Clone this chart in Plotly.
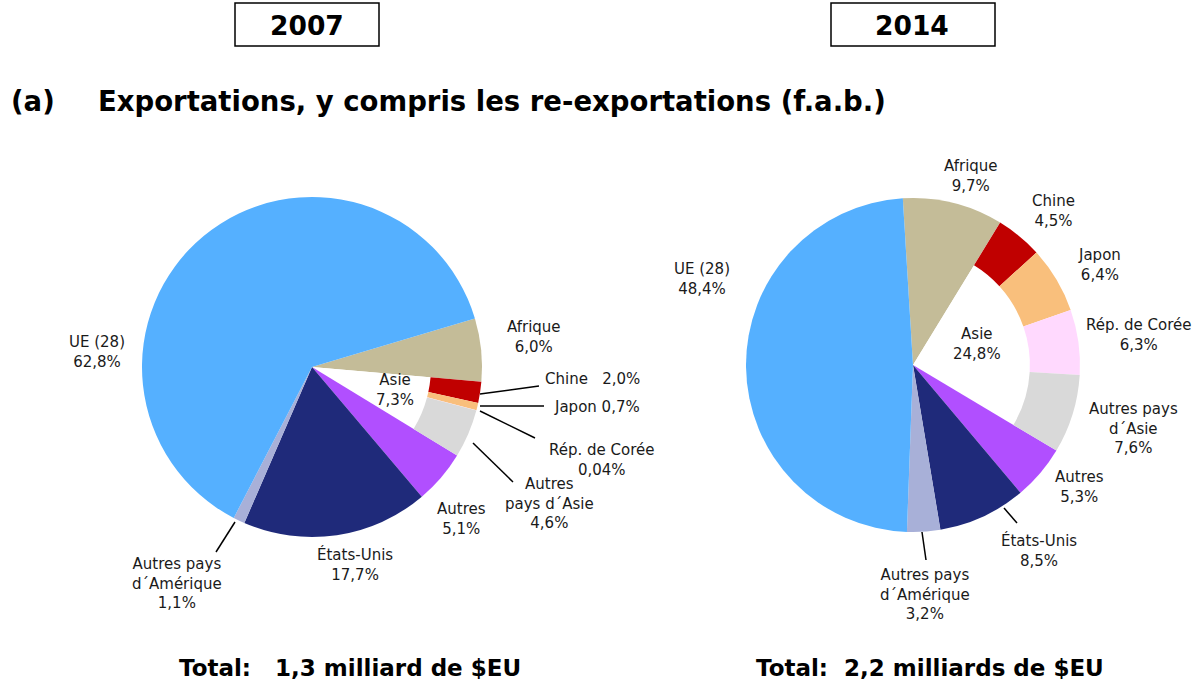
import plotly.graph_objects as go

W, H = 1202, 684

# ---------------- data ----------------
regions = ["Afrique", "Asie", "Autres", "États-Unis", "Autres pays d´Amérique", "UE (28)"]
asia_parts = ["Chine", "Japon", "Rép. de Corée", "Autres pays d´Asie"]

v2007_main = [6.0, None, 5.1, 17.7, 1.1, 62.8]
v2007_asia = [2.0, 0.7, 0.04, 4.6]
v2014_main = [9.7, None, 5.3, 8.5, 3.2, 48.4]
v2014_asia = [4.5, 6.4, 6.3, 7.6]
asia_2007_label = 7.3
asia_2014_label = 24.8

colors_main = {"Afrique": "#C4BC98", "Asie": "#FFFFFF", "Autres": "#B14FFF",
               "États-Unis": "#1F2A7A", "Autres pays d´Amérique": "#A8B0D8",
               "UE (28)": "#55B0FF"}
colors_asia = {"Chine": "#C00000", "Japon": "#F9BF7C", "Rép. de Corée": "#FFD9FE",
               "Autres pays d´Asie": "#D9D9D9"}
CLEAR = "rgba(0,0,0,0)"


def px_domain(cx, cy, r):
    return dict(x=[(cx - r) / W, (cx + r) / W], y=[1 - (cy + r) / H, 1 - (cy - r) / H])


def pie_pair(main, asia, cx, cy, r, rot, hole):
    vals = list(main)
    vals[1] = sum(asia)
    dom = px_domain(cx, cy, r)
    base = go.Pie(labels=regions, values=vals, sort=False, direction="clockwise",
                  rotation=rot, domain=dom, textinfo="none", hoverinfo="label+percent",
                  marker=dict(colors=[colors_main[k] for k in regions], line=dict(width=0)),
                  showlegend=False)
    ring_labels = [regions[0]] + asia_parts + regions[2:]
    ring_vals = [vals[0]] + list(asia) + vals[2:]
    ring_cols = [CLEAR] + [colors_asia[k] for k in asia_parts] + [CLEAR] * 4
    ring = go.Pie(labels=ring_labels, values=ring_vals, sort=False, direction="clockwise",
                  rotation=rot, domain=dom, hole=hole, textinfo="none", hoverinfo="label+value",
                  marker=dict(colors=ring_cols, line=dict(width=0)), showlegend=False)
    return [base, ring]


fig = go.Figure()
for t in pie_pair(v2007_main, v2007_asia, 312, 367, 170, 73.4, 0.70):
    fig.add_trace(t)
for t in pie_pair(v2014_main, v2014_asia, 913, 365, 167, -3.5, 0.70):
    fig.add_trace(t)


def fmt(v):
    return (f"{v:.2f}" if v < 0.1 else f"{v:.1f}").replace(".", ",") + "%"


annotations = []
LBL = dict(family="DejaVu Sans, Verdana, sans-serif", size=15, color="#1a1a1a")


def lab(text, x, y, font=LBL):
    annotations.append(dict(text=text, x=x / W, y=1 - y / H, xref="paper", yref="paper",
                            showarrow=False, xanchor="center", yanchor="middle", font=font))


# 2007 labels
lab(f"UE (28)<br>{fmt(v2007_main[5])}", 97, 352)
lab(f"Afrique<br>{fmt(v2007_main[0])}", 534, 337)
lab(f"Asie<br>{fmt(asia_2007_label)}", 395, 390)
lab(f"Chine   {fmt(v2007_asia[0])}", 592, 379)
lab(f"Japon {fmt(v2007_asia[1])}", 597, 407)
lab(f"Rép. de Corée<br>{fmt(v2007_asia[2])}", 602, 460)
lab(f"Autres<br>pays d´Asie<br>{fmt(v2007_asia[3])}", 549, 503)
lab(f"Autres<br>{fmt(v2007_main[2])}", 461, 519)
lab(f"États-Unis<br>{fmt(v2007_main[3])}", 355, 564)
lab(f"Autres pays<br>d´Amérique<br>{fmt(v2007_main[4])}", 177, 583)

# 2014 labels
lab(f"UE (28)<br>{fmt(v2014_main[5])}", 702, 279)
lab(f"Afrique<br>{fmt(v2014_main[0])}", 971, 176)
lab(f"Chine<br>{fmt(v2014_asia[0])}", 1053, 211)
lab(f"Japon<br>{fmt(v2014_asia[1])}", 1099, 265)
lab(f"Rép. de Corée<br>{fmt(v2014_asia[2])}", 1139, 335)
lab(f"Asie<br>{fmt(asia_2014_label)}", 977, 344)
lab(f"Autres pays<br>d´Asie<br>{fmt(v2014_asia[3])}", 1133, 429)
lab(f"Autres<br>{fmt(v2014_main[2])}", 1079, 487)
lab(f"États-Unis<br>{fmt(v2014_main[3])}", 1039, 550)
lab(f"Autres pays<br>d´Amérique<br>{fmt(v2014_main[4])}", 925, 594)

BOLD = "DejaVu Sans, Verdana, sans-serif"
lab("<b>2007</b>", 307, 26, dict(family=BOLD, size=26.5, color="#000"))
lab("<b>2014</b>", 912, 26, dict(family=BOLD, size=26.5, color="#000"))
annotations.append(dict(text="<b>(a)</b>", x=9 / W, y=1 - 101 / H, xref="paper", yref="paper",
                        showarrow=False, xanchor="left", yanchor="middle",
                        font=dict(family=BOLD, size=27.5, color="#000")))
annotations.append(dict(text="<b>Exportations, y compris les re-exportations (f.a.b.)</b>",
                        x=96 / W, y=1 - 101 / H, xref="paper", yref="paper",
                        showarrow=False, xanchor="left", yanchor="middle",
                        font=dict(family=BOLD, size=27.5, color="#000")))
lab("<b>Total:   1,3 milliard de $EU</b>", 350, 668, dict(family=BOLD, size=23, color="#000"))
lab("<b>Total:  2,2 milliards de $EU</b>", 930, 668, dict(family=BOLD, size=23, color="#000"))

shapes = []


def pline(x0, y0, x1, y1):
    shapes.append(dict(type="line", xref="paper", yref="paper", x0=x0 / W, y0=1 - y0 / H,
                       x1=x1 / W, y1=1 - y1 / H, line=dict(color="#000", width=1.5)))


def prect(x0, y0, x1, y1):
    shapes.append(dict(type="rect", xref="paper", yref="paper", x0=x0 / W, y0=1 - y0 / H,
                       x1=x1 / W, y1=1 - y1 / H, line=dict(color="#000", width=1.5)))


prect(235, 3, 379, 46)
prect(831, 3, 995, 46)
# leader lines 2007
pline(480, 394, 539, 386)
pline(480, 406, 544, 406)
pline(480, 411, 535, 438)
pline(473, 443, 513, 482)
pline(235, 522, 216, 552)
# leader lines 2014
pline(1004, 508, 1017, 523)
pline(922, 532, 926, 560)

fig.update_layout(width=W, height=H, margin=dict(l=0, r=0, t=0, b=0),
                  paper_bgcolor="white", plot_bgcolor="white",
                  annotations=annotations, shapes=shapes)
fig.write_html("out.html", config={"displayModeBar": False},
               post_script="document.body.style.margin='0px';document.body.style.overflow='hidden';")
